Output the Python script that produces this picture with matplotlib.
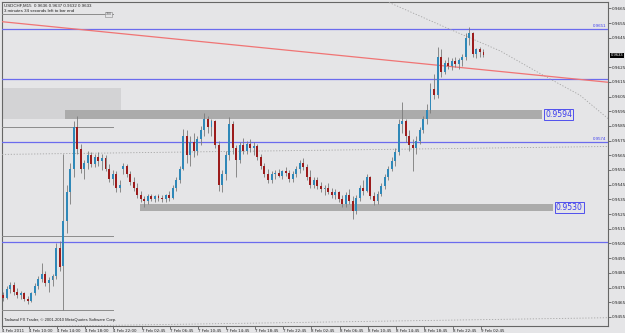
import matplotlib
matplotlib.use("Agg")
import matplotlib.pyplot as plt
import numpy as np
from matplotlib.patches import Rectangle

# USDCHF M15チャート（30分足相当で読み取り、単位: pips = 価格 x 10000）
opens = [9470, 9468, 9474, 9477, 9472, 9470, 9471, 9467, 9466, 9471,
         9476, 9481, 9484, 9478, 9480, 9483, 9502, 9490, 9520, 9540,
         9556, 9584, 9569, 9556, 9560, 9565, 9559, 9564, 9561, 9563,
         9556, 9549, 9552, 9543, 9556, 9558, 9552, 9547, 9543, 9538,
         9535, 9534, 9537, 9535, 9537, 9536, 9535, 9538, 9536, 9543,
         9548, 9556, 9578, 9565, 9574, 9568, 9576, 9582, 9590, 9584,
         9588, 9572, 9545, 9552, 9565, 9586, 9570, 9562, 9572, 9568,
         9573, 9570, 9571, 9564, 9558, 9552, 9548, 9552, 9553, 9551,
         9554, 9553, 9549, 9552, 9556, 9560, 9557, 9550, 9545, 9548,
         9544, 9542, 9543, 9540, 9538, 9540, 9535, 9532, 9538, 9534,
         9527, 9536, 9543, 9541, 9550, 9537, 9534, 9539, 9544, 9550,
         9556, 9561, 9567, 9586, 9588, 9578, 9572, 9570, 9575, 9582,
         9590, 9596, 9610, 9606, 9632, 9622, 9628, 9626, 9629, 9627,
         9630, 9632, 9645, 9648, 9634, 9637, 9635]
highs = [9472, 9476, 9479, 9479, 9475, 9473, 9472, 9469, 9472, 9478,
         9483, 9492, 9486, 9482, 9484, 9505, 9507, 9566, 9545, 9560,
         9588, 9592, 9573, 9562, 9568, 9567, 9566, 9567, 9566, 9565,
         9559, 9555, 9554, 9548, 9560, 9559, 9554, 9550, 9546, 9541,
         9537, 9539, 9539, 9538, 9539, 9538, 9539, 9541, 9545, 9550,
         9558, 9583, 9582, 9578, 9580, 9578, 9585, 9594, 9592, 9590,
         9589, 9575, 9555, 9568, 9591, 9588, 9572, 9574, 9577, 9575,
         9576, 9574, 9573, 9566, 9560, 9556, 9554, 9555, 9556, 9555,
         9557, 9555, 9554, 9558, 9562, 9563, 9559, 9555, 9550, 9550,
         9547, 9545, 9546, 9543, 9542, 9541, 9538, 9540, 9542, 9537,
         9538, 9545, 9548, 9552, 9551, 9540, 9541, 9546, 9552, 9558,
         9564, 9570, 9590, 9601, 9590, 9582, 9576, 9578, 9584, 9592,
         9600, 9614, 9620, 9639, 9637, 9630, 9632, 9631, 9632, 9631,
         9634, 9648, 9652, 9649, 9638, 9639, 9637]
lows = [9466, 9467, 9471, 9470, 9468, 9467, 9466, 9464, 9465, 9470,
        9474, 9479, 9476, 9472, 9476, 9481, 9486, 9460, 9512, 9532,
        9550, 9566, 9553, 9549, 9556, 9557, 9557, 9558, 9555, 9554,
        9547, 9545, 9540, 9540, 9552, 9550, 9545, 9541, 9536, 9533,
        9530, 9532, 9534, 9533, 9534, 9533, 9533, 9534, 9535, 9541,
        9546, 9555, 9560, 9558, 9564, 9565, 9572, 9578, 9580, 9578,
        9570, 9541, 9540, 9548, 9562, 9566, 9550, 9560, 9566, 9566,
        9567, 9565, 9562, 9556, 9550, 9546, 9546, 9549, 9550, 9549,
        9551, 9547, 9547, 9550, 9553, 9555, 9548, 9543, 9543, 9542,
        9540, 9538, 9539, 9536, 9535, 9533, 9530, 9530, 9532, 9522,
        9525, 9534, 9538, 9540, 9535, 9531, 9532, 9537, 9542, 9548,
        9554, 9558, 9565, 9580, 9574, 9568, 9554, 9566, 9573, 9580,
        9586, 9594, 9603, 9604, 9618, 9620, 9624, 9623, 9625, 9624,
        9626, 9630, 9640, 9632, 9631, 9632, 9632]
closes = [9468, 9474, 9477, 9472, 9470, 9471, 9467, 9466, 9471, 9476,
          9481, 9484, 9478, 9480, 9483, 9502, 9489, 9520, 9540, 9556,
          9584, 9569, 9556, 9560, 9565, 9559, 9564, 9561, 9563, 9556,
          9549, 9552, 9543, 9545, 9558, 9552, 9547, 9543, 9538, 9535,
          9534, 9537, 9535, 9537, 9536, 9535, 9538, 9536, 9543, 9548,
          9556, 9578, 9565, 9574, 9568, 9576, 9582, 9590, 9584, 9588,
          9572, 9545, 9552, 9565, 9586, 9570, 9562, 9572, 9568, 9573,
          9570, 9571, 9564, 9558, 9552, 9548, 9552, 9553, 9551, 9554,
          9553, 9549, 9552, 9556, 9560, 9557, 9550, 9545, 9548, 9544,
          9542, 9543, 9540, 9538, 9540, 9535, 9532, 9538, 9534, 9527,
          9536, 9543, 9541, 9550, 9537, 9534, 9539, 9544, 9550, 9556,
          9561, 9567, 9586, 9588, 9578, 9572, 9570, 9575, 9582, 9590,
          9596, 9610, 9606, 9632, 9622, 9628, 9626, 9629, 9627, 9630,
          9632, 9645, 9648, 9634, 9637, 9635, 9633]

# 時間軸ラベル（M15バー番号）
time_ticks = [0, 15, 31, 47, 63, 79, 95, 111, 127, 143, 159, 175, 191, 207, 223, 239, 255, 271]
time_labels = ["4 Feb 2011", "4 Feb 10:00", "4 Feb 14:00", "4 Feb 18:00", "4 Feb 22:00",
               "7 Feb 02:45", "7 Feb 06:45", "7 Feb 10:45", "7 Feb 14:45", "7 Feb 18:45",
               "7 Feb 22:45", "8 Feb 02:45", "8 Feb 06:45", "8 Feb 10:45", "8 Feb 14:45",
               "8 Feb 18:45", "8 Feb 22:45", "9 Feb 02:45"]
price_ticks = [9455, 9465, 9475, 9485, 9495, 9505, 9515, 9525, 9535, 9545, 9555,
               9565, 9575, 9585, 9595, 9605, 9615, 9625, 9645, 9655, 9665]
last_price = 9633

# チャート上のオブジェクト（バー番号, pips）
hlines_blue = [9651, 9617, 9574, 9506]
hline_labels = {9651: "0.9651", 9574: "0.9574"}
trend_red = [(-0.1, 9655.9), (343.0, 9614.7)]
channel_top = [(-0.1, 9565.6), (343.0, 9571.0)]
channel_bottom = [(-0.1, 9448.2), (343.0, 9454.5)]
arc_points = [(219, 9669), (253, 9651), (282, 9636), (304, 9621), (327, 9606), (343, 9590)]
fib_levels = [9661, 9584, 9510, 9460]
fib_span = (-0.1, 62.8)
zone_light = (-0.1, 67.3, 9590, 9611)
zones = [(35.6, 305.7, 9590, 9596, "0.9594", 307.5),
         (78.0, 311.9, 9527, 9532, "0.9530", 313.5)]

BG = "#e5e5e7"
BLUE = "#6b6bee"


def main():
    fig = plt.figure(figsize=(6.25, 3.33), dpi=100, facecolor=BG)
    ax = fig.add_axes([0.0032, 0.0225, 0.9696, 0.9715], facecolor=BG)
    plt.rcParams['font.family'] = ['Liberation Sans', 'DejaVu Sans']

    o = np.array(opens) / 10000
    h = np.array(highs) / 10000
    l = np.array(lows) / 10000
    c = np.array(closes) / 10000
    x = np.arange(len(o)) * 2 + 0.5

    # 背景のゾーン
    x0, x1, p0, p1 = zone_light
    ax.add_patch(Rectangle((x0, p0 / 1e4), x1 - x0, (p1 - p0) / 1e4,
                           facecolor="#d3d3d5", edgecolor="none", zorder=1))
    for x0, x1, p0, p1, txt, tx in zones:
        ax.add_patch(Rectangle((x0, p0 / 1e4), x1 - x0, (p1 - p0) / 1e4,
                               facecolor="#ababab", edgecolor="none", zorder=2))
        ax.text(tx, (p0 + p1) / 2e4, txt, color="#3a3aee", fontsize=5.6,
                family="DejaVu Sans", va="center", ha="left", zorder=6,
                bbox=dict(boxstyle="square,pad=0.12", facecolor="none",
                          edgecolor="#5050ee", linewidth=0.7))

    # 水平線・トレンドライン
    for p in hlines_blue:
        ax.axhline(p / 1e4, color=BLUE, lw=0.9, zorder=3)
        if p in hline_labels:
            ax.text(342, p / 1e4 + 0.00008, hline_labels[p], color="#4040ee",
                    fontsize=3.2, ha="right", va="bottom", zorder=6)
    for p in fib_levels:
        ax.plot(fib_span, [p / 1e4] * 2, color="#8c8c8c", lw=0.7, zorder=3)
    ax.text(fib_span[1] - 1, fib_levels[0] / 1e4, "100", fontsize=2.6, color="#555",
            ha="right", va="center", zorder=6,
            bbox=dict(boxstyle="square,pad=0.1", facecolor=BG, edgecolor="#888", lw=0.4))
    ax.plot([p[0] for p in trend_red], [p[1] / 1e4 for p in trend_red],
            color="#f07474", lw=0.9, zorder=4)
    for line in (channel_top, channel_bottom, arc_points):
        ax.plot([p[0] for p in line], [p[1] / 1e4 for p in line],
                color="#a5a5a5", lw=0.6, ls=(0, (1.5, 2)), zorder=3)

    # ローソク足
    up = c >= o
    ax.vlines(x, l, h, color="#7a7a7a", lw=0.6, zorder=4)
    body = np.maximum(np.abs(c - o), 0.00004)
    ax.bar(x[up], body[up], bottom=np.minimum(o, c)[up], width=1.1,
           color="#2f88b8", zorder=5)
    ax.bar(x[~up], body[~up], bottom=np.minimum(o, c)[~up], width=1.1,
           color="#9c1c1c", zorder=5)

    # 軸の設定
    ax.set_xlim(-0.1, 343.0)
    ax.set_ylim(0.94492, 0.96693)
    ax.set_xticks(time_ticks)
    ax.set_xticklabels(time_labels, fontsize=2.9, ha="left", color="#222")
    ax.yaxis.tick_right()
    ax.set_yticks([p / 1e4 for p in price_ticks])
    ax.set_yticklabels([f"{p / 1e4:.4f}" for p in price_ticks], fontsize=3.0, color="#222")
    ax.tick_params(axis="x", length=2, width=0.5, pad=0.6, color="#444")
    ax.tick_params(axis="y", length=2, width=0.5, pad=1.0, color="#444")
    for s in ax.spines.values():
        s.set_color("#666")
        s.set_linewidth(0.8)

    # 現在値
    ax.text(1.004, (last_price / 1e4 - 0.94492) / (0.96693 - 0.94492),
            f"{last_price / 1e4:.4f}", transform=ax.transAxes, fontsize=3.0,
            color="white", va="center", ha="left", clip_on=False,
            bbox=dict(boxstyle="square,pad=0.15", facecolor="black", edgecolor="none"))

    # テキスト
    ax.text(0.003, 0.995, "USDCHF,M15  0.9636 0.9637 0.9632 0.9633", transform=ax.transAxes,
            fontsize=3.2, color="#222", va="top", ha="left")
    ax.text(0.003, 0.978, "3 minutes 34 seconds left to bar end", transform=ax.transAxes,
            fontsize=3.2, color="#222", va="top", ha="left")
    ax.text(0.003, 0.012, "Tadawul FX Trader, \u00a9 2001-2010 MetaQuotes Software Corp.",
            transform=ax.transAxes, fontsize=3.0, color="#222", va="bottom", ha="left")

    plt.savefig("out.png", dpi=100, facecolor=BG)


if __name__ == "__main__":
    main()
